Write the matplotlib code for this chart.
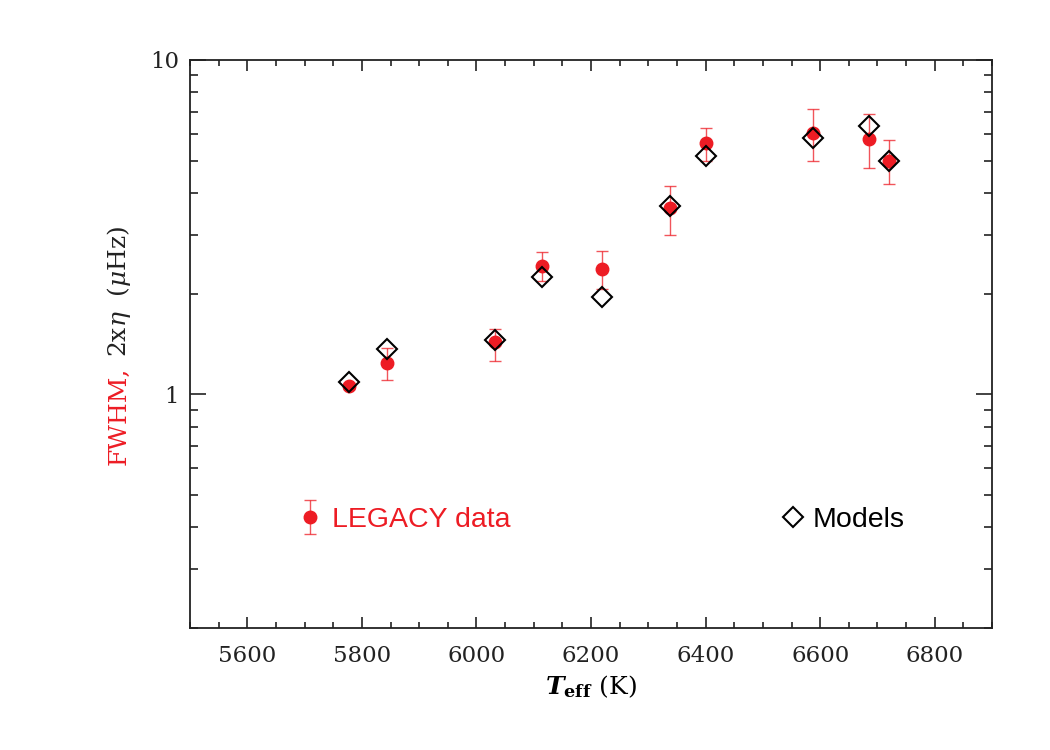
import matplotlib
matplotlib.use('Agg')
import matplotlib.pyplot as plt
from matplotlib.ticker import MultipleLocator, LogLocator, NullFormatter, FormatStrFormatter
from matplotlib.legend_handler import HandlerErrorbar

# values
teff = [5778, 5844, 6032, 6114, 6220, 6338, 6401, 6587, 6686, 6721]
fwhm = [1.06, 1.24, 1.43, 2.42, 2.37, 3.60, 5.65, 6.04, 5.81, 4.98]
fwhm_lo = [1.04, 1.10, 1.26, 2.18, 2.06, 2.99, 5.00, 4.98, 4.75, 4.26]
fwhm_hi = [1.08, 1.38, 1.57, 2.66, 2.68, 4.19, 6.27, 7.13, 6.90, 5.76]
models = [1.09, 1.37, 1.45, 2.25, 1.95, 3.65, 5.17, 5.86, 6.33, 4.98]

RED = '#ED1C24'

plt.rcParams['font.family'] = 'DejaVu Serif'
plt.rcParams['mathtext.fontset'] = 'dejavuserif'

fig = plt.figure(figsize=(10.5, 7.5), dpi=100)
ax = fig.add_axes([190 / 1050, 1 - 628 / 750, 802 / 1050, 568 / 750])

yerr = [[f - lo for f, lo in zip(fwhm, fwhm_lo)], [hi - f for f, hi in zip(fwhm, fwhm_hi)]]
eb = ax.errorbar(teff, fwhm, yerr=yerr, fmt='o', color=RED, ms=9, ecolor=RED,
                 elinewidth=1, capsize=4, capthick=1, zorder=2)
for line in eb[1] + eb[2]:
    line.set_alpha(0.75)
mod, = ax.plot(teff, models, 'D', ms=10, mfc='none', mec='black', mew=1.5, zorder=3)

ax.set_yscale('log')
ax.set_xlim(5500, 6900)
ax.set_ylim(0.2, 10)
ax.xaxis.set_major_locator(MultipleLocator(200))
ax.xaxis.set_minor_locator(MultipleLocator(50))
ax.yaxis.set_major_locator(LogLocator(base=10))
ax.yaxis.set_minor_locator(LogLocator(base=10, subs=range(2, 10)))
ax.yaxis.set_major_formatter(FormatStrFormatter('%g'))
ax.yaxis.set_minor_formatter(NullFormatter())

for s in ax.spines.values():
    s.set_linewidth(1.3)
    s.set_color('#222222')
ax.tick_params(which='both', direction='in', top=True, right=True, colors='#222222',
               labelsize=16.5, width=1.2)
ax.tick_params(axis='x', which='major', length=8, pad=12)
ax.tick_params(axis='x', which='minor', length=4)
ax.tick_params(axis='y', which='major', length=11.5, pad=8)
ax.tick_params(axis='y', which='minor', length=6)

ax.set_xlabel(r'$\mathbfit{T}_{\mathbf{eff}}$ (K)', fontsize=18, labelpad=5)

# legends as in the reference: two separate keys
leg1 = ax.legend([eb], ['LEGACY data'], loc='center left',
                 bbox_to_anchor=(299 / 1050, 1 - 520 / 750), bbox_transform=fig.transFigure,
                 frameon=False, borderpad=0, borderaxespad=0, handlelength=0.8,
                 handletextpad=0.36, numpoints=1,
                 prop={'family': 'Liberation Sans', 'size': 20.5},
                 handler_map={eb: HandlerErrorbar(yerr_size=0.6)})
for t in leg1.get_texts():
    t.set_color(RED)
ax.add_artist(leg1)
ax.legend([mod], ['Models'], loc='center left',
          bbox_to_anchor=(782 / 1050, 1 - 520 / 750), bbox_transform=fig.transFigure,
          frameon=False, borderpad=0, borderaxespad=0, handlelength=0.8,
          handletextpad=0.29, numpoints=1,
          prop={'family': 'Liberation Sans', 'size': 20.5})

# two-colour y label
t1 = fig.text(119 / 1050, 1 - 465 / 750, 'FWHM,', color=RED, rotation=90,
              ha='center', va='bottom', fontsize=18)
fig.canvas.draw()
bb = t1.get_window_extent(fig.canvas.get_renderer())
fig.text(119 / 1050, (bb.y1 + 10) / fig.bbox.height, r'2x$\eta$  ($\mu$Hz)', color='#222222',
         rotation=90, ha='center', va='bottom', fontsize=18)

fig.savefig('out.png', dpi=100)
